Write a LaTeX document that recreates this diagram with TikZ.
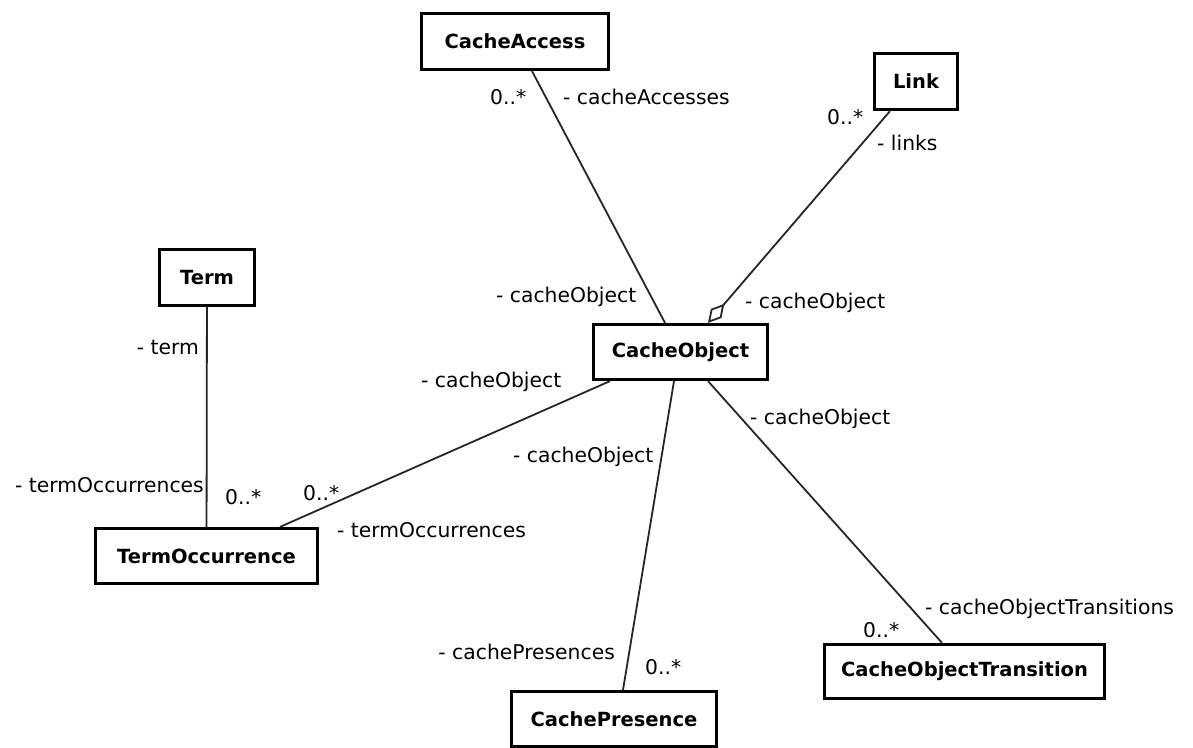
\documentclass[tikz,border=0pt]{standalone}
\usepackage{fontspec}
\setmainfont{DejaVu Sans}
\usetikzlibrary{arrows.meta}
\begin{document}
\begin{tikzpicture}[x=1pt,y=-1pt,
  cls/.style={draw=black, line width=3.2pt, fill=white, inner sep=0pt,
    font=\fontsize{19.5}{22}\selectfont\bfseries},
  assoc/.style={draw=black!85, line width=1.8pt},
  agg/.style={assoc, -{Diamond[open, length=25pt, width=14pt]}},
  role/.style={inner sep=0pt, font=\fontsize{20.3}{23}\selectfont, anchor=base west},
  rolel/.style={role, anchor=base east},
]
\fill[white] (0,0) rectangle (1193,747);
\useasboundingbox (0,0) rectangle (1193,747);

% classes
\node[cls, minimum width=187pt, minimum height=56pt] (access) at (515,41.5) {CacheAccess};
\node[cls, minimum width=83pt, minimum height=56pt] (link) at (916,81.5) {Link};
\node[cls, minimum width=95pt, minimum height=56pt] (term) at (207,277.5) {Term};
\node[cls, minimum width=174pt, minimum height=55pt] (obj) at (680.5,352) {CacheObject};
\node[cls, minimum width=222pt, minimum height=55pt] (occ) at (206.5,556) {TermOccurrence};
\node[cls, minimum width=205pt, minimum height=55pt] (pres) at (614,719) {CachePresence};
\node[cls, minimum width=280pt, minimum height=54pt] (trans) at (964.5,671.5) {CacheObjectTransition};

% associations
\draw[assoc] ([xshift=17pt]access.south) -- ([xshift=-15.5pt]obj.north);
\draw[agg] ([xshift=-26pt]link.south) -- ([xshift=27.5pt]obj.north);
\draw[assoc] (term) -- (occ);
\draw[assoc] ([xshift=-70.5pt]obj.south) -- ([xshift=73.5pt]occ.north);
\draw[assoc] ([xshift=-6.5pt]obj.south) -- ([xshift=9pt]pres.north);
\draw[assoc] ([xshift=27.5pt]obj.south) -- ([xshift=-22.5pt]trans.north);

% role names and multiplicities
\node[role] (m1) at (490,104) {0..*};
\node[role] (r1) at (563,104) {- cacheAccesses};
\node[role] (m2) at (827,124) {0..*};
\node[role] (r2) at (877,150) {- links};
\node[role] (r3) at (496,302) {- cacheObject};
\node[role] (r4) at (745,308) {- cacheObject};
\node[rolel] (r5) at (199,354) {- term};
\node[role] (r6) at (421,387) {- cacheObject};
\node[role] (r7) at (750,424) {- cacheObject};
\node[role] (r8) at (513,462) {- cacheObject};
\node[rolel] (r9) at (204,492) {- termOccurrences};
\node[role] (m3) at (225,504) {0..*};
\node[role] (m4) at (303,500) {0..*};
\node[role] (r10) at (337,537) {- termOccurrences};
\node[role] (r11) at (925,614) {- cacheObjectTransitions};
\node[role] (m5) at (863,637) {0..*};
\node[rolel] (r12) at (615,659) {- cachePresences};
\node[role] (m6) at (645,674) {0..*};
\end{tikzpicture}
\end{document}
